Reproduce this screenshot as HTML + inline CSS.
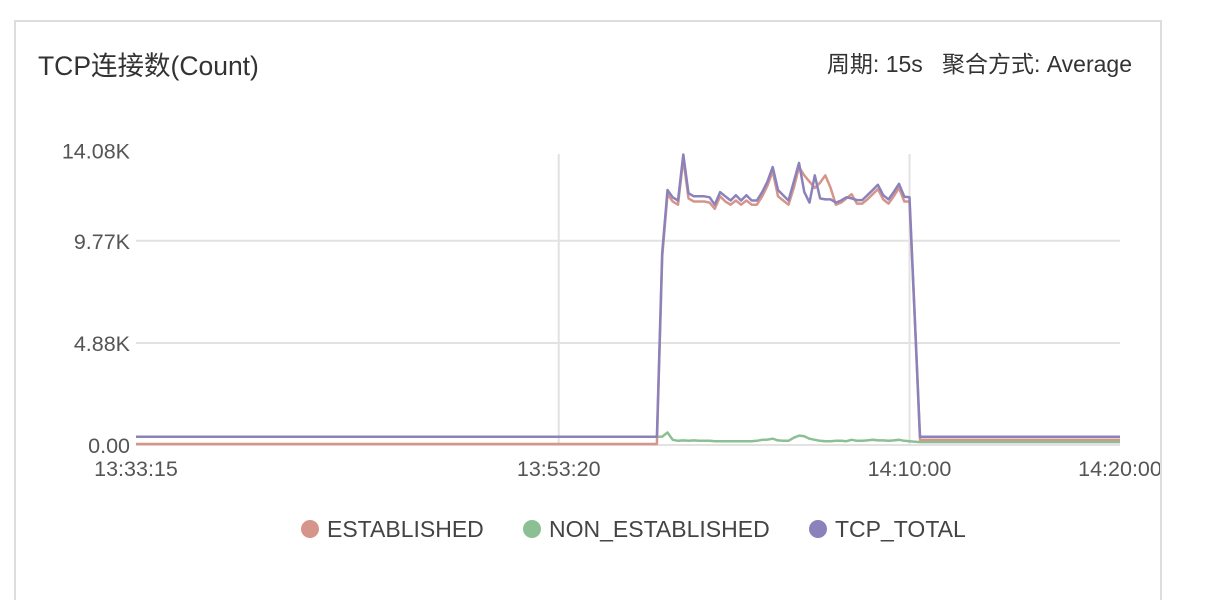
<!DOCTYPE html>
<html><head><meta charset="utf-8"><style>
body{margin:0;width:1208px;height:582px;background:#fff;overflow:hidden;font-family:"Liberation Sans","Noto Sans CJK SC",sans-serif;}
#card{position:absolute;left:14px;top:20px;width:1148px;height:580px;border:2px solid #ddd;border-bottom:none;overflow:hidden;box-sizing:border-box;}
#title{position:absolute;left:22px;top:22px;font-size:26.5px;color:#333;}
#meta{position:absolute;right:28px;top:23px;font-size:23px;color:#333;white-space:pre;}
svg{position:absolute;left:-16px;top:-22px;}
</style></head><body>
<div id="card">
<div id="title">TCP连接数(Count)</div>
<div id="meta">周期: 15s   聚合方式: Average</div>
<svg id="chart" width="1208" height="582"></svg>
</div>
<script>
const yTicks=[0,4.88,9.77,14.08];
const yTickLabels=["0.00","4.88K","9.77K","14.08K"];
const xTickSec=[0,1205,2205,2805];
const xTickLabels=["13:33:15","13:53:20","14:10:00","14:20:00"];
const stepSec=15;
const totalPlateau=[0.39,9.2,12.2,11.85,11.7,13.9,12.05,11.9,11.9,11.9,11.85,11.5,12.1,11.9,11.7,11.95,11.7,11.95,11.7,11.7,12.1,12.6,13.3,12.2,11.95,11.7,12.6,13.5,12.1,11.6,12.9,11.8,11.75,11.75,11.6,11.7,11.85,11.8,11.72,11.72,11.95,12.2,12.45,11.95,11.75,12.1,12.5,11.88,11.85,6.1,0.39];
const estPlateau=[0.05,9.0,12.0,11.65,11.5,13.7,11.8,11.65,11.65,11.65,11.6,11.3,11.9,11.65,11.5,11.7,11.5,11.7,11.5,11.5,11.9,12.4,13.1,11.9,11.7,11.5,12.3,13.3,12.9,12.6,12.3,12.55,12.9,12.3,11.5,11.6,11.8,12.0,11.55,11.55,11.75,12.0,12.25,11.75,11.55,11.9,12.3,11.65,11.65,6.0,0.25];
const nonPlateau=[0.39,0.4,0.6,0.25,0.2,0.22,0.2,0.22,0.2,0.2,0.2,0.18,0.18,0.18,0.18,0.18,0.18,0.18,0.18,0.2,0.25,0.26,0.3,0.22,0.2,0.2,0.35,0.45,0.42,0.3,0.25,0.2,0.18,0.18,0.2,0.2,0.18,0.25,0.2,0.2,0.22,0.25,0.22,0.22,0.2,0.22,0.25,0.2,0.18,0.16,0.14];
const preCount=99, postCount=38;
const totalSeries=Array(preCount).fill(0.39).concat(totalPlateau,Array(postCount).fill(0.39));
const estSeries=Array(preCount).fill(0.05).concat(estPlateau,Array(postCount).fill(0.25));
const nonSeries=Array(preCount).fill(0.39).concat(nonPlateau,Array(postCount).fill(0.14));
const seriesNames=["ESTABLISHED","NON_ESTABLISHED","TCP_TOTAL"];
const seriesColors=["#d6958a","#8dbf94","#8b82bb"];

const NS="http://www.w3.org/2000/svg";
const svg=document.getElementById('chart');
const x0=136,x1=1120,yBase=445,pxPerK=20.9;
const xs=s=>x0+s*(x1-x0)/2805;
const ys=v=>yBase-v*pxPerK;
function mk(tag,attrs){const e=document.createElementNS(NS,tag);for(const k in attrs)e.setAttribute(k,attrs[k]);svg.appendChild(e);return e;}
yTicks.forEach((v,i)=>{
  if(i<3){const g=mk('line',{x1:x0,x2:x1,y1:ys(v),y2:ys(v),stroke:'#e2e2e2','stroke-width':2});
  
  }
  const t=mk('text',{x:130,y:ys(v)+8,'text-anchor':'end','font-size':21.5,fill:'#555','font-family':'Liberation Sans, sans-serif'});
  t.textContent=yTickLabels[i];
  
  
});
xTickSec.forEach((s,i)=>{
  if(i==1||i==2){const g=mk('line',{x1:xs(s),x2:xs(s),y1:154,y2:yBase,stroke:'#e2e2e2','stroke-width':2});
  
  }
  const t=mk('text',{x:xs(s),y:476,'text-anchor':'middle','font-size':21.5,fill:'#555','font-family':'Liberation Sans, sans-serif'});
  t.textContent=xTickLabels[i];
  
  
});
[estSeries,nonSeries,totalSeries].forEach((arr,si)=>{
  const pts=arr.map((v,i)=>xs(Math.min(i*stepSec,2805)).toFixed(1)+','+ys(v).toFixed(1)).join(' ');
  const p=mk('polyline',{points:pts,fill:'none',stroke:seriesColors[si],'stroke-width':2.5,'stroke-linejoin':'round'});
  
  
});
const legX=[310,532,818];
seriesNames.forEach((n,i)=>{
  const c=mk('circle',{cx:legX[i],cy:529,r:9,fill:seriesColors[i]});
  
  
  const t=mk('text',{x:legX[i]+17,y:537,'font-size':23,fill:'#444','font-family':'Liberation Sans, sans-serif'});
  t.textContent=n;
  
  
});
</script>
</body></html>
